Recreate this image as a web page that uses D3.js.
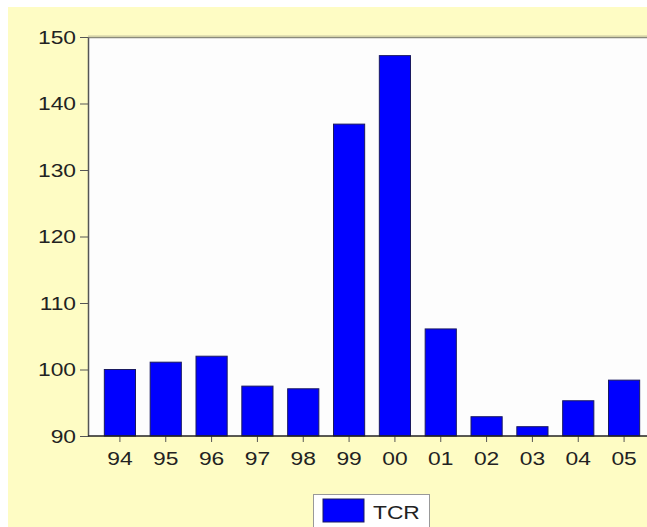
<!DOCTYPE html>
<html><head><meta charset="utf-8">
<script src="https://cdn.jsdelivr.net/npm/d3@7"></script>
<style>
html,body{margin:0;padding:0;background:#fff;}
svg{display:block;}
text{font-family:"Liberation Sans",Arial,sans-serif;fill:#222;}
</style></head>
<body>
<script>
const categories = ["94","95","96","97","98","99","00","01","02","03","04","05"];
const tcr = [100.0, 101.1, 102.0, 97.5, 97.1, 136.9, 147.2, 106.1, 92.9, 91.4, 95.3, 98.4];
const yTicks = [90, 100, 110, 120, 130, 140, 150];
const seriesName = "TCR";

const W = 647, H = 527;
const svg = d3.select("body").append("svg").attr("width", W).attr("height", H);

// yellow background
svg.append("rect").attr("x", 8).attr("y", 7).attr("width", W - 8).attr("height", H - 7).attr("fill", "#fefcc4");

const pLeft = 88, pTop = 37, pBottom = 436, pRight = 660;
const y = d3.scaleLinear().domain([90, 150]).range([pBottom, pTop]);
const x = d3.scaleBand().domain(categories).range([97, 647]).paddingInner(0.32).paddingOuter(0.16);

// plot area
svg.append("rect").attr("x", pLeft).attr("y", pTop).attr("width", pRight - pLeft).attr("height", pBottom - pTop).attr("fill", "#fdfdfd");
// top border (shadowed gray)
svg.append("line").attr("x1", pLeft).attr("x2", W).attr("y1", pTop + 0.5).attr("y2", pTop + 0.5).attr("stroke", "#8a8a7a").attr("stroke-width", 1.5);
svg.append("line").attr("x1", pLeft).attr("x2", W).attr("y1", pTop - 1).attr("y2", pTop - 1).attr("stroke", "#c8c6a0").attr("stroke-width", 1);

// bars
svg.append("g").selectAll("rect").data(tcr).join("rect")
  .attr("x", (d, i) => x(categories[i]))
  .attr("y", d => y(d))
  .attr("width", x.bandwidth())
  .attr("height", d => y(90) - y(d))
  .attr("fill", "#0000ff")
  .attr("stroke", "#1a1a60")
  .attr("stroke-width", 1);

// y axis
const ya = svg.append("g").attr("transform", `translate(${pLeft},0)`)
  .call(d3.axisLeft(y).tickValues(yTicks).tickSize(8).tickPadding(4).tickSizeOuter(0));
ya.select(".domain").attr("stroke", "#555").attr("stroke-width", 1.5);
ya.selectAll(".tick line").attr("stroke", "#555");
ya.selectAll(".tick text").attr("font-size", 19).attr("fill", "#222")
  .attr("x", null).attr("transform", "translate(-12,0) scale(1.2,1)");

// x axis
const xa = svg.append("g").attr("transform", `translate(0,${pBottom})`)
  .call(d3.axisBottom(x).tickSize(6).tickPadding(10).tickSizeOuter(0));
xa.select(".domain").remove();
svg.append("line").attr("x1", pLeft).attr("x2", W).attr("y1", pBottom).attr("y2", pBottom).attr("stroke", "#222").attr("stroke-width", 1.5);
xa.selectAll(".tick line").attr("stroke", "#555");
xa.selectAll(".tick text").attr("font-size", 19).attr("fill", "#222")
  .attr("transform", "scale(1.2,1)");

// legend
const lg = svg.append("g");
lg.append("rect").attr("x", 313.5).attr("y", 494.5).attr("width", 116).attr("height", 40).attr("fill", "#fff").attr("stroke", "#999");
lg.append("rect").attr("x", 323).attr("y", 499).attr("width", 41).attr("height", 23).attr("fill", "#0000ff").attr("stroke", "#1a1a60");
lg.append("text").attr("x", 373 / 1.2).attr("y", 519).attr("font-size", 19).attr("transform", "scale(1.2,1)").text(seriesName);
</script>
</body></html>
